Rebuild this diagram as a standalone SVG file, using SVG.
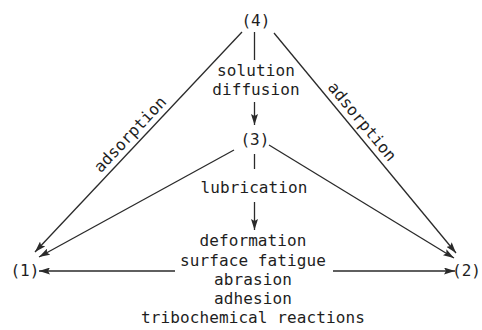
<svg xmlns="http://www.w3.org/2000/svg" width="482" height="330" viewBox="0 0 482 330">
<style>
text{font-family:"DejaVu Sans Mono","Liberation Mono",monospace;font-size:16px;letter-spacing:0.1px;fill:#1e1e1e;text-anchor:middle}
.c line{stroke:#2a2a2a;stroke-width:1.3;fill:none}
.a{marker-end:url(#ah)}
</style>
<defs>
<marker id="ah" markerUnits="userSpaceOnUse" markerWidth="12" markerHeight="7" refX="11" refY="3.5" orient="auto">
<path d="M0,0 L11,3.5 L0,7 L2,3.5 z" fill="#2a2a2a"/>
</marker>
</defs>
<rect width="482" height="330" fill="#fff"/>
<g class="c" id="connectors">
<line x1="254.5" y1="32" x2="254.5" y2="60"/>
<line class="a" x1="254.5" y1="102" x2="254.5" y2="125"/>
<line x1="254.5" y1="154" x2="254.5" y2="169"/>
<line class="a" x1="254.5" y1="202" x2="254.5" y2="230"/>
<line class="a" x1="242" y1="32" x2="35" y2="252"/>
<line class="a" x1="234" y1="150" x2="39" y2="257"/>
<line class="a" x1="274" y1="33" x2="456" y2="253"/>
<line class="a" x1="269" y1="145" x2="454" y2="258"/>
<line class="a" x1="175" y1="271" x2="39" y2="271"/>
<line class="a" x1="333" y1="271" x2="455" y2="271"/>
</g>
<g id="n4"><text x="256" y="26">(4)</text></g>
<g id="n3"><text x="255" y="145">(3)</text></g>
<g id="n1"><text x="25" y="276">(1)</text></g>
<g id="n2"><text x="481" y="276" style="text-anchor:end;letter-spacing:0">(2)</text></g>
<g id="l-sd"><text x="256" y="76">solution</text><text x="256" y="95">diffusion</text></g>
<g id="l-lub"><text x="254" y="193">lubrication</text></g>
<g id="l-mech">
<text x="253" y="246">deformation</text>
<text x="253" y="266">surface fatigue</text>
<text x="253" y="285">abrasion</text>
<text x="253" y="304">adhesion</text>
<text x="253" y="323">tribochemical reactions</text>
</g>
<g id="l-ads1"><text transform="translate(134,138) rotate(-46.7)">adsorption</text></g>
<g id="l-ads2"><text transform="translate(358,125) rotate(50.4)">adsorption</text></g>
</svg>
